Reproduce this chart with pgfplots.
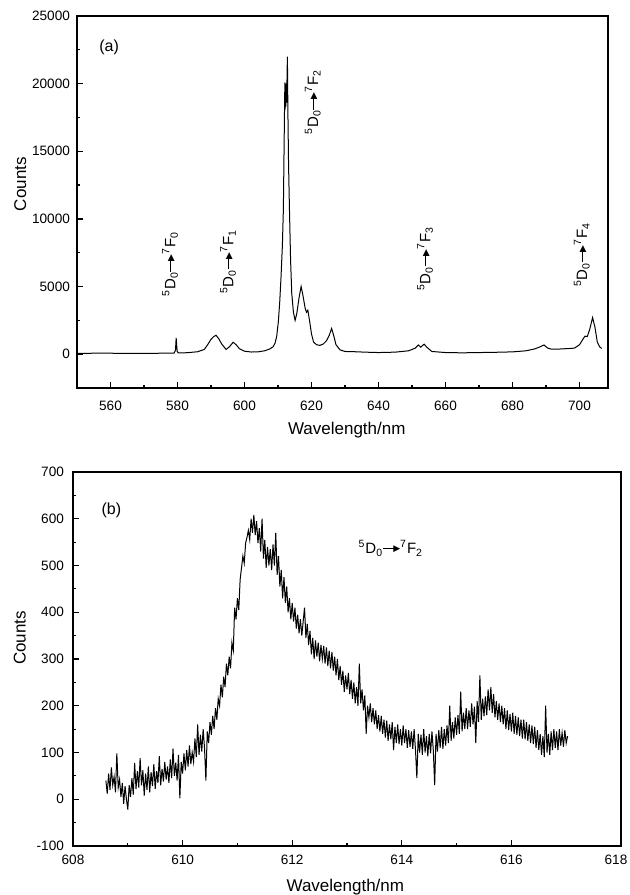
\documentclass[border=0pt]{standalone}
\usepackage{pgfplots}
\pgfplotsset{compat=1.18}
\usepackage{fontspec}
\setmainfont{Liberation Sans}
\newfontfamily\dejavu{DejaVu Sans}

\newcommand{\arr}{\raisebox{0.3em}{\rule{6.5pt}{0.5pt}}\kern-1.4pt\raisebox{0.12em}{\dejavu\fontsize{4.5}{4.5}\selectfont ▶}}
\newcommand{\trans}[1]{\textsuperscript{5}D\textsubscript{0}\arr\textsuperscript{7}F\textsubscript{#1}}

\pgfplotsset{
  spec/.style={
    scale only axis,
    axis line style={line width=0.75pt},
    tick align=inside, tick pos=left,
    major tick length=3pt, minor tick length=1.5pt,
    every tick/.append style={line width=0.6pt, black},
    /pgf/number format/assume math mode=true,
    /pgf/number format/1000 sep={},
    scaled ticks=false,
    label style={font=\fontsize{8.5}{10}\selectfont},
    tick label style={font=\fontsize{6.8}{8}\selectfont},
    clip=false,
  }
}

\begin{document}
\begin{tikzpicture}
\path[use as bounding box] (0,0) rectangle (314.5pt,447.5pt);

% (a) full emission spectrum
\begin{axis}[spec,
  at={(38.5pt,253.5pt)}, anchor=south west,
  width=265.5pt, height=186pt,
  xmin=550, xmax=708.5, ymin=-2500, ymax=25000,
  xtick={560,580,...,700}, minor x tick num=1,
  ytick={0,5000,...,25000}, minor y tick num=1,
  xticklabel style={yshift=-3pt},
  xlabel={Wavelength/nm}, ylabel={Counts},
  xlabel style={at={(axis description cs:0.508,-0.113)}, anchor=center},
  ylabel style={at={(axis description cs:-0.107,0.548)}, anchor=center},
]
\addplot[black, line width=0.5pt] coordinates {
(550,60) (555,70) (560,70) (565,60) (570,60) (575,70) (579,80) (579.4,300) (579.6,1200) (579.9,200) (580.3,90)
(583,110) (586,180) (588,350) (589,700) (590,1100) (590.8,1300) (591.5,1400) (592.3,1150) (593.2,750)
(594.5,350) (595.5,550) (596.6,880) (597.5,700) (598.5,400) (600,220) (602,160) (604,170) (606,250)
(607.5,380) (608.5,540) (609.1,800) (609.6,1300) (610.1,2400) (610.5,3800) (610.9,5700) (611.3,8000)
(611.6,10700) (611.8,15000) (611.95,18200) (612.05,20100) (612.15,18100) (612.25,20000) (612.35,18300)
(612.45,19800) (612.55,18600) (612.7,20500) (612.8,22000) (612.95,18000) (613.15,14000) (613.4,10900)
(613.75,7000) (614.1,4500) (614.6,3100) (615.1,2500) (615.6,3000) (616.3,4200) (616.9,5000) (617.4,4400)
(618.1,3400) (618.5,3100) (618.9,3250) (619.4,2500) (620.0,1500) (620.6,900) (621.5,700) (622.5,650)
(623.5,750) (624.5,1000) (625.3,1400) (626.0,1900) (626.6,1400) (627.3,700) (628.5,320) (630,200)
(633,180) (636,150) (640,120) (645,150) (649,250) (651,450) (651.9,680) (652.6,520) (653.6,740)
(654.5,500) (655.9,200) (660,120) (665,100) (670,120) (675,140) (680,170) (684,250) (686.5,380)
(688,520) (689.4,680) (690.5,450) (691.5,380) (694,380) (697,420) (698.5,450) (700,700) (701,1100)
(701.6,1330) (702.3,1300) (703,1800) (703.9,2700) (704.6,2000) (705.3,900) (706,550) (706.6,420)
};
\node[font=\fontsize{8}{9}\selectfont] at (axis cs:559.6,22700) {(a)};
\node[rotate=90, font=\fontsize{7.5}{9}\selectfont] at (axis cs:577.8,6650) {\trans{0}};
\node[rotate=90, font=\fontsize{7.5}{9}\selectfont] at (axis cs:595.1,6840) {\trans{1}};
\node[rotate=90, font=\fontsize{7.5}{9}\selectfont] at (axis cs:620.4,18640) {\trans{2}};
\node[rotate=90, font=\fontsize{7.5}{9}\selectfont] at (axis cs:653.9,7060) {\trans{3}};
\node[rotate=90, font=\fontsize{7.5}{9}\selectfont] at (axis cs:700.7,7360) {\trans{4}};
\end{axis}

% (b) detail of the 5D0-7F2 band
\begin{axis}[spec,
  at={(36.5pt,24.5pt)}, anchor=south west,
  width=274pt, height=187pt,
  xmin=608, xmax=618, ymin=-100, ymax=700,
  xtick={608,610,...,616}, minor x tick num=1,
  extra x ticks={618},
  extra x tick style={xticklabel style={xshift=-2.5pt}},
  ytick={-100,0,...,700}, minor y tick num=1,
  xticklabel style={yshift=-1pt},
  yticklabel style={xshift=-1pt},
  xlabel={Wavelength/nm}, ylabel={Counts},
  xlabel style={at={(axis description cs:0.497,-0.110)}, anchor=center},
  ylabel style={at={(axis description cs:-0.097,0.556)}, anchor=center},
]
\addplot[black, line width=0.5pt] coordinates {
(608.600,40) (608.625,12) (608.650,55) (608.675,20) (608.700,68) (608.725,30) (608.750,48) (608.775,15)
(608.800,98) (608.825,25) (608.850,42) (608.875,5) (608.900,35) (608.925,-10) (608.950,28) (608.975,0)
(609.000,-22) (609.025,30) (609.050,5) (609.075,45) (609.100,10) (609.125,78) (609.150,22) (609.175,60)
(609.200,25) (609.225,88) (609.250,30) (609.275,62) (609.300,8) (609.325,55) (609.350,20) (609.375,70)
(609.400,15) (609.425,58) (609.450,28) (609.475,75) (609.500,22) (609.525,60) (609.550,35) (609.575,92)
(609.600,30) (609.625,65) (609.650,38) (609.675,80) (609.700,42) (609.725,70) (609.750,35) (609.775,85)
(609.800,45) (609.825,108) (609.850,50) (609.875,78) (609.900,40) (609.925,95) (609.950,2) (609.975,80)
(610.000,55) (610.025,98) (610.050,62) (610.075,105) (610.100,70) (610.125,115) (610.150,75) (610.175,100)
(610.200,80) (610.225,130) (610.250,90) (610.275,160) (610.300,95) (610.325,138) (610.350,102) (610.375,150)
(610.400,110) (610.425,40) (610.450,145) (610.475,120) (610.500,165) (610.525,138) (610.550,178) (610.575,150)
(610.600,195) (610.625,170) (610.650,215) (610.675,200) (610.700,245) (610.725,218) (610.750,262) (610.775,240)
(610.800,290) (610.825,265) (610.850,305) (610.875,280) (610.900,335) (610.925,318) (610.950,410) (610.975,385)
(611.000,430) (611.025,405) (611.050,470) (611.075,495) (611.100,520) (611.125,505) (611.150,548) (611.175,560)
(611.200,575) (611.225,555) (611.250,600) (611.275,570) (611.300,608) (611.325,565) (611.350,595) (611.375,548)
(611.400,580) (611.425,530) (611.450,600) (611.475,515) (611.500,555) (611.525,495) (611.550,540) (611.575,500)
(611.600,535) (611.625,490) (611.650,545) (611.675,500) (611.700,570) (611.725,480) (611.750,520) (611.775,455)
(611.800,490) (611.825,430) (611.850,475) (611.875,420) (611.900,455) (611.925,400) (611.950,430) (611.975,385)
(612.000,420) (612.025,380) (612.050,410) (612.075,365) (612.100,395) (612.125,355) (612.150,385) (612.175,350)
(612.200,380) (612.225,410) (612.250,345) (612.275,375) (612.300,330) (612.325,360) (612.350,310) (612.375,345)
(612.400,300) (612.425,340) (612.450,305) (612.475,335) (612.500,295) (612.525,330) (612.550,300) (612.575,328)
(612.600,290) (612.625,325) (612.650,285) (612.675,318) (612.700,280) (612.725,315) (612.750,275) (612.775,305)
(612.800,265) (612.825,300) (612.850,255) (612.875,285) (612.900,245) (612.925,275) (612.950,230) (612.975,265)
(613.000,235) (613.025,270) (613.050,225) (613.075,255) (613.100,215) (613.125,250) (613.150,205) (613.175,240)
(613.200,200) (613.225,290) (613.250,205) (613.275,235) (613.300,190) (613.325,222) (613.350,140) (613.375,200)
(613.400,175) (613.425,205) (613.450,165) (613.475,195) (613.500,160) (613.525,190) (613.550,150) (613.575,180)
(613.600,145) (613.625,178) (613.650,140) (613.675,170) (613.700,132) (613.725,168) (613.750,125) (613.775,160)
(613.800,128) (613.825,165) (613.850,105) (613.875,155) (613.900,120) (613.925,160) (613.950,118) (613.975,150)
(614.000,115) (614.025,158) (614.050,120) (614.075,150) (614.100,110) (614.125,148) (614.150,112) (614.175,145)
(614.200,108) (614.225,150) (614.250,105) (614.275,45) (614.300,140) (614.325,100) (614.350,138) (614.375,95)
(614.400,150) (614.425,100) (614.450,135) (614.475,92) (614.500,140) (614.525,98) (614.550,145) (614.575,105)
(614.600,30) (614.625,140) (614.650,102) (614.675,148) (614.700,110) (614.725,155) (614.750,108) (614.775,150)
(614.800,115) (614.825,158) (614.850,120) (614.875,200) (614.900,125) (614.925,165) (614.950,130) (614.975,175)
(615.000,138) (615.025,180) (615.050,140) (615.075,230) (615.100,145) (615.125,185) (615.150,150) (615.175,195)
(615.200,150) (615.225,190) (615.250,155) (615.275,205) (615.300,160) (615.325,198) (615.350,120) (615.375,210)
(615.400,165) (615.425,265) (615.450,170) (615.475,215) (615.500,178) (615.525,220) (615.550,180) (615.575,235)
(615.600,190) (615.625,240) (615.650,185) (615.675,225) (615.700,175) (615.725,210) (615.750,170) (615.775,205)
(615.800,165) (615.825,200) (615.850,160) (615.875,195) (615.900,150) (615.925,190) (615.950,148) (615.975,182)
(616.000,145) (616.025,185) (616.050,140) (616.075,178) (616.100,138) (616.125,175) (616.150,135) (616.175,170)
(616.200,130) (616.225,170) (616.250,128) (616.275,165) (616.300,125) (616.325,160) (616.350,120) (616.375,158)
(616.400,118) (616.425,155) (616.450,110) (616.475,148) (616.500,105) (616.525,140) (616.550,95) (616.575,135)
(616.600,90) (616.625,200) (616.650,100) (616.675,140) (616.700,95) (616.725,145) (616.750,105) (616.775,150)
(616.800,110) (616.825,145) (616.850,105) (616.875,150) (616.900,115) (616.925,142) (616.950,112) (616.975,148)
(617.000,120) (617.025,135)
};
\node[font=\fontsize{8}{9}\selectfont] at (axis cs:608.7,618) {(b)};
\node[font=\fontsize{7.5}{9}\selectfont] at (axis cs:613.8,537) {\trans{2}};
\end{axis}
\end{tikzpicture}
\end{document}
